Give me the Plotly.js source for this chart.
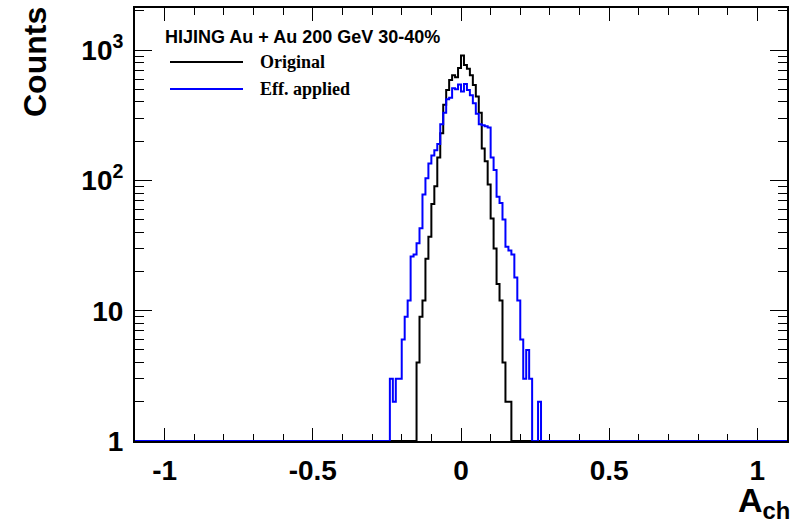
<!DOCTYPE html>
<html><head><meta charset="utf-8">
<script src="https://cdn.plot.ly/plotly-3.0.1.min.js"></script>
<style>html,body{margin:0;padding:0;background:#fff}#chart{width:798px;height:526px}</style>
</head><body><div id="chart"></div>
<script>
// Bin centres of the A_ch histogram (bin width 0.01); all other bins are empty
const binCenters = [
 -0.235,-0.225,-0.215,-0.205,-0.195,-0.185,-0.175,-0.165,-0.155,-0.145,
 -0.135,-0.125,-0.115,-0.105,-0.095,-0.085,-0.075,-0.065,-0.055,-0.045,
 -0.035,-0.025,-0.015,-0.005,
  0.005, 0.015, 0.025, 0.035, 0.045, 0.055, 0.065, 0.075, 0.085, 0.095,
  0.105, 0.115, 0.125, 0.135, 0.145, 0.155, 0.165, 0.175, 0.185, 0.195,
  0.205, 0.215, 0.225, 0.235, 0.245, 0.255, 0.265];
const binWidth = 0.01;
const originalCounts = [
 0,0,0,0,0,0,0,0,0,4,
 9,12,25,37,66,90,150,230,380,495,
 590,640,620,730,
 910,770,720,640,540,440,330,176,140,93,
 51,30,16,12,4,2,2,0,0,0,
 0,0,0,0,0,0,0];
const effAppliedCounts = [
 3,2,3,3,6,9,12,26,27,33,
 43,78,104,135,155,170,190,270,330,420,
 430,510,500,545,
 480,550,495,450,390,325,270,265,260,255,
 150,120,75,67,50,31,29,27,18,12,
 6,3,5,3,0,0,2];
const seriesNames = ['Original', 'Eff. applied'];
const legendHeader = 'HIJING Au + Au 200 GeV 30-40%';
const xTickVals = [-1, -0.5, 0, 0.5, 1];
const xTickText = ['-1', '-0.5', '0', '0.5', '1'];
const yTickVals = [1, 10, 100, 1000];
const yTickText = ['1', '10', '10<sup>2</sup>', '10<sup>3</sup>'];
const xRange = [-1.1, 1.1];
const yMinCount = 1;

const yMinor = [];
[1, 10, 100, 1000].forEach(d => { for (let k = 2; k <= 9; k++) yMinor.push(d * k); });

function stepLine(counts) {
  const xs = [xRange[0], binCenters[0] - binWidth / 2], ys = [yMinCount, yMinCount];
  for (let i = 0; i < binCenters.length; i++) {
    const v = Math.max(counts[i], yMinCount);
    xs.push(binCenters[i] - binWidth / 2, binCenters[i] + binWidth / 2);
    ys.push(v, v);
  }
  xs.push(binCenters[binCenters.length - 1] + binWidth / 2, xRange[1]);
  ys.push(yMinCount, yMinCount);
  return {xs, ys};
}

const a = stepLine(originalCounts), b = stepLine(effAppliedCounts);
const traces = [
  {x: a.xs, y: a.ys, mode: 'lines', name: seriesNames[0], line: {color: '#000000', width: 2}, showlegend: false, hoverinfo: 'skip'},
  {x: b.xs, y: b.ys, mode: 'lines', name: seriesNames[1], line: {color: '#0000ff', width: 2}, showlegend: false, hoverinfo: 'skip'}
];

const sans = 'Liberation Sans, Arial, sans-serif';
const serif = 'Liberation Serif, Times New Roman, serif';
const L = 135, R = 787, T = 8, B = 441;
const px = p => (p - L) / (R - L);
const py = p => (B - p) / (B - T);

const layout = {
  width: 798, height: 526,
  margin: {l: L, r: 798 - R, t: T, b: 526 - B},
  paper_bgcolor: '#fff', plot_bgcolor: '#fff',
  showlegend: false,
  xaxis: {
    range: xRange, tickvals: xTickVals, ticktext: xTickText,
    ticks: 'inside', ticklen: 13, tickwidth: 1, tickcolor: '#000',
    minor: {dtick: 0.1, tick0: 0, ticks: 'inside', ticklen: 7, tickwidth: 1, tickcolor: '#000'},
    showline: true, linecolor: '#000', linewidth: 2, mirror: 'allticks',
    showgrid: false, zeroline: false, layer: 'below traces',
    tickfont: {family: sans, size: 28, color: '#000', weight: 'bold'},
    ticklabelstandoff: 3
  },
  yaxis: {
    type: 'log', range: [0, 3.323],
    tickvals: yTickVals, ticktext: yTickText,
    ticks: 'inside', ticklen: 17, tickwidth: 1, tickcolor: '#000',
    minor: {tickvals: yMinor, ticks: 'inside', ticklen: 9, tickwidth: 1, tickcolor: '#000'},
    showline: true, linecolor: '#000', linewidth: 2, mirror: 'allticks',
    showgrid: false, zeroline: false, layer: 'below traces',
    tickfont: {family: sans, size: 28, color: '#000', weight: 'bold'},
    ticklabelstandoff: 4
  },
  shapes: [
    {type: 'line', xref: 'paper', yref: 'paper', x0: px(170), x1: px(243), y0: py(62), y1: py(62), line: {color: '#000', width: 2}},
    {type: 'line', xref: 'paper', yref: 'paper', x0: px(170), x1: px(243), y0: py(89), y1: py(89), line: {color: '#0000ff', width: 2}}
  ],
  annotations: [
    {text: 'Counts', xref: 'paper', yref: 'paper', x: 0, y: 1, xshift: -100, yshift: 3,
     xanchor: 'center', yanchor: 'top', textangle: -90, showarrow: false,
     font: {family: sans, size: 32, color: '#000', weight: 'bold'}},
    {text: 'A<sub>ch</sub>', xref: 'paper', yref: 'paper', x: 1, y: 0, xshift: 4, yshift: -84,
     xanchor: 'right', yanchor: 'bottom', showarrow: false, borderpad: 0,
     font: {family: sans, size: 34, color: '#000', weight: 'bold'}},
    {text: legendHeader, xref: 'paper', yref: 'paper', x: px(163), y: py(37),
     xanchor: 'left', yanchor: 'middle', showarrow: false,
     font: {family: sans, size: 18, color: '#000', weight: 'bold'}},
    {text: seriesNames[0], xref: 'paper', yref: 'paper', x: px(258), y: py(62),
     xanchor: 'left', yanchor: 'middle', showarrow: false,
     font: {family: serif, size: 18, color: '#000', weight: 'bold'}},
    {text: seriesNames[1], xref: 'paper', yref: 'paper', x: px(258), y: py(89),
     xanchor: 'left', yanchor: 'middle', showarrow: false,
     font: {family: serif, size: 18, color: '#000', weight: 'bold'}}
  ]
};

Plotly.newPlot('chart', traces, layout, {staticPlot: true, displayModeBar: false});
</script></body></html>
